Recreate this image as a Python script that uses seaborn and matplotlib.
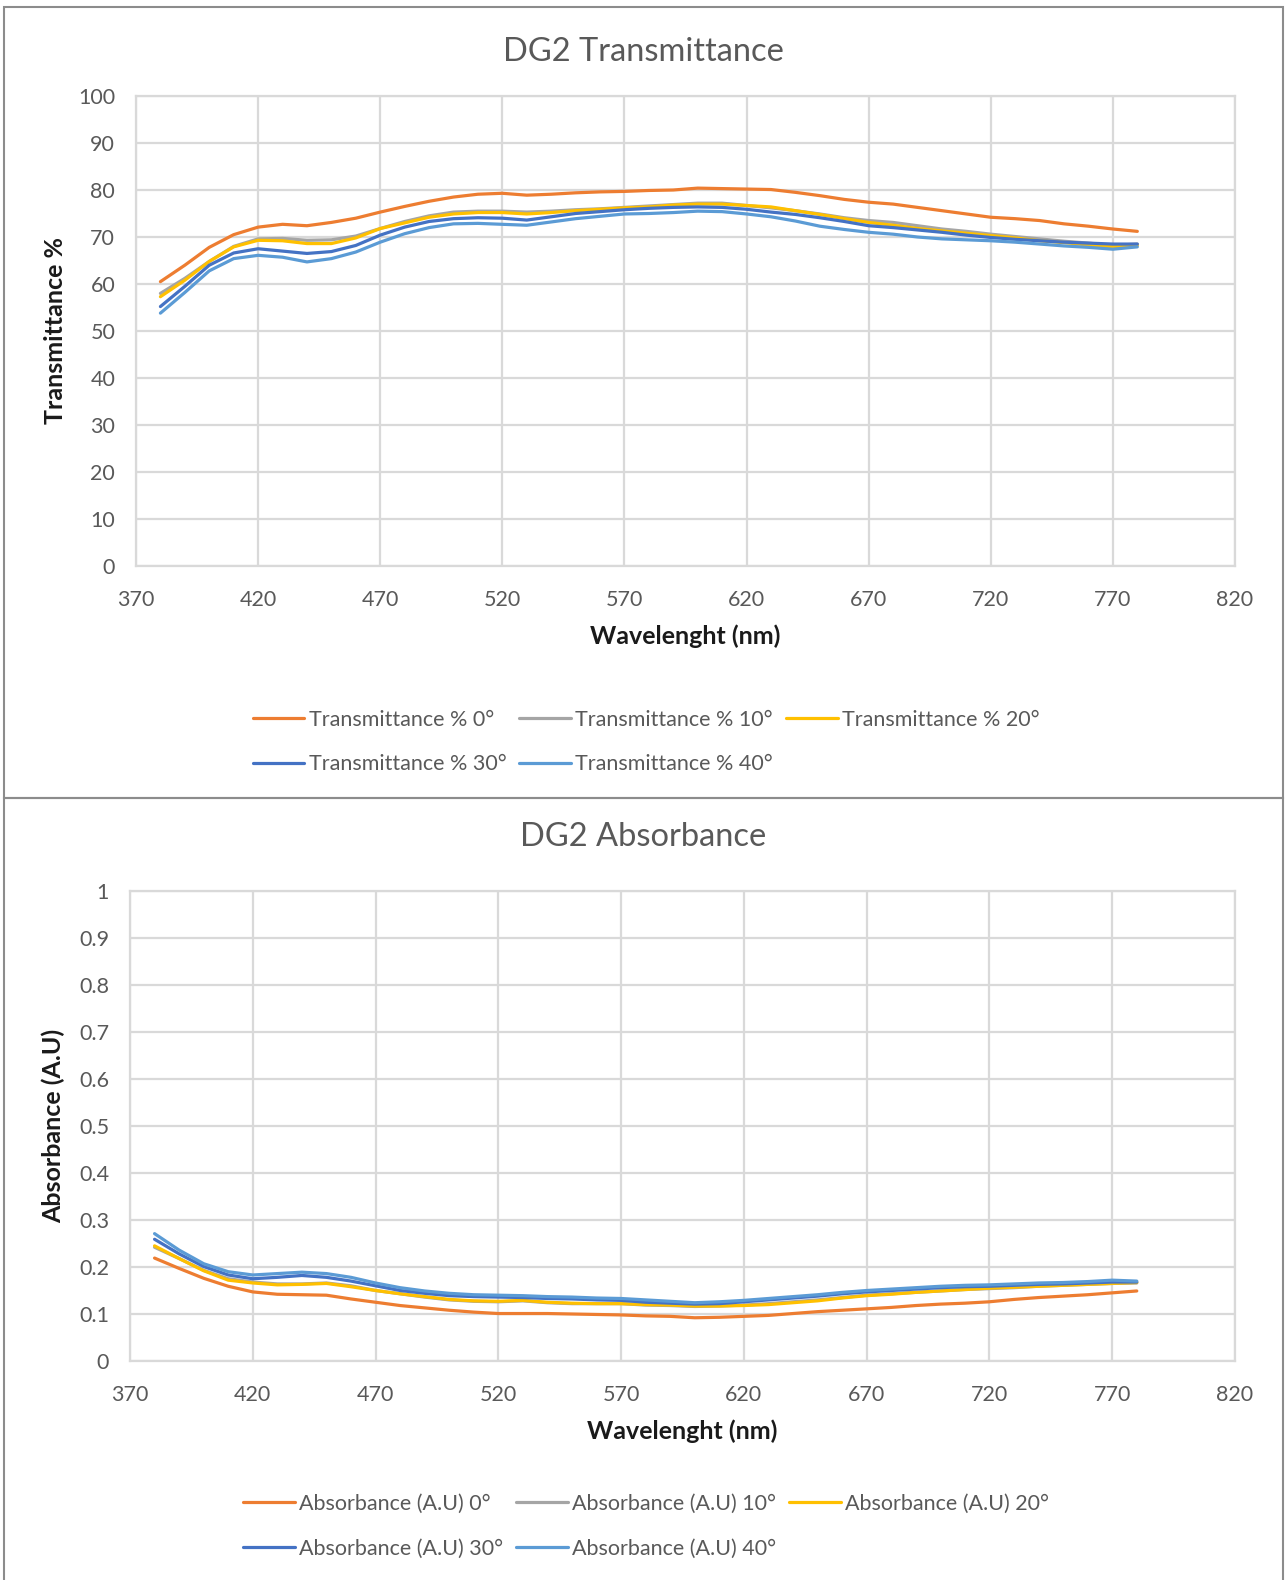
import numpy as np
import pandas as pd
import seaborn as sns
from matplotlib import pyplot as plt
from matplotlib.patches import Rectangle
from matplotlib.ticker import FuncFormatter, MultipleLocator

# wavelength grid, 380..780 nm every 10 nm
wavelength = list(range(380, 781, 10))

angles = ["0°", "10°", "20°", "30°", "40°"]

trans_0 = [60.5, 64.0, 67.8, 70.5, 72.1, 72.7, 72.4, 73.1, 74.0, 75.3, 76.5, 77.6, 78.5, 79.1,
           79.3, 78.9, 79.1, 79.4, 79.6, 79.7, 79.9, 80.0, 80.4, 80.3, 80.2, 80.1, 79.5, 78.8,
           78.0, 77.4, 77.0, 76.3, 75.6, 74.9, 74.2, 73.9, 73.5, 72.8, 72.3, 71.7, 71.2]
trans_10 = [58.0, 61.2, 64.8, 68.0, 69.6, 69.7, 69.3, 69.4, 70.2, 71.8, 73.3, 74.5, 75.3, 75.5,
            75.5, 75.3, 75.5, 75.8, 76.0, 76.3, 76.6, 76.9, 77.2, 77.2, 76.7, 76.2, 75.6, 74.9,
            74.1, 73.5, 73.1, 72.4, 71.7, 71.2, 70.6, 70.1, 69.6, 69.1, 68.7, 68.2, 68.5]
trans_20 = [57.3, 60.8, 64.8, 67.9, 69.3, 69.2, 68.6, 68.6, 69.8, 71.8, 73.0, 74.2, 74.9, 75.2,
            75.2, 74.9, 75.2, 75.6, 75.9, 76.2, 76.4, 76.8, 77.0, 77.0, 76.7, 76.4, 75.6, 74.8,
            73.9, 73.1, 72.5, 71.8, 71.3, 70.8, 70.3, 69.8, 69.2, 68.8, 68.3, 67.9, 68.2]
trans_30 = [55.2, 59.5, 64.0, 66.6, 67.5, 67.0, 66.5, 66.9, 68.2, 70.4, 72.1, 73.3, 73.9, 74.1,
            74.0, 73.6, 74.3, 75.0, 75.4, 75.8, 76.1, 76.3, 76.4, 76.3, 75.9, 75.3, 74.8, 74.1,
            73.3, 72.4, 72.0, 71.5, 71.0, 70.4, 69.9, 69.5, 69.2, 68.9, 68.7, 68.5, 68.5]
trans_40 = [53.8, 58.2, 62.8, 65.4, 66.1, 65.7, 64.7, 65.4, 66.8, 68.9, 70.7, 72.0, 72.8, 72.9,
            72.7, 72.5, 73.2, 73.9, 74.4, 74.9, 75.0, 75.2, 75.5, 75.4, 74.9, 74.3, 73.4, 72.3,
            71.6, 71.0, 70.6, 70.0, 69.6, 69.4, 69.2, 68.9, 68.5, 68.1, 67.8, 67.4, 67.9]

abs_0 = [0.219, 0.197, 0.176, 0.159, 0.147, 0.142, 0.141, 0.140, 0.132, 0.125, 0.118, 0.113,
         0.108, 0.104, 0.101, 0.101, 0.101, 0.100, 0.099, 0.098, 0.096, 0.095, 0.092, 0.093,
         0.095, 0.097, 0.101, 0.105, 0.108, 0.111, 0.114, 0.118, 0.121, 0.123, 0.126, 0.131,
         0.135, 0.138, 0.141, 0.145, 0.149]
abs_10 = [0.242, 0.218, 0.193, 0.175, 0.168, 0.164, 0.164, 0.166, 0.160, 0.150, 0.143, 0.136,
          0.130, 0.127, 0.126, 0.128, 0.124, 0.122, 0.122, 0.122, 0.119, 0.118, 0.116, 0.117,
          0.119, 0.122, 0.126, 0.130, 0.135, 0.140, 0.143, 0.146, 0.149, 0.152, 0.154, 0.156,
          0.159, 0.161, 0.163, 0.165, 0.166]
abs_20 = [0.245, 0.218, 0.192, 0.172, 0.166, 0.162, 0.163, 0.165, 0.158, 0.150, 0.143, 0.137,
          0.131, 0.128, 0.127, 0.129, 0.125, 0.123, 0.122, 0.122, 0.120, 0.119, 0.117, 0.117,
          0.118, 0.120, 0.124, 0.128, 0.134, 0.139, 0.142, 0.146, 0.149, 0.152, 0.155, 0.157,
          0.159, 0.161, 0.163, 0.165, 0.167]
abs_30 = [0.259, 0.228, 0.201, 0.183, 0.175, 0.178, 0.182, 0.178, 0.170, 0.160, 0.150, 0.144,
          0.139, 0.137, 0.136, 0.135, 0.133, 0.132, 0.130, 0.129, 0.125, 0.123, 0.121, 0.122,
          0.126, 0.130, 0.134, 0.138, 0.143, 0.147, 0.150, 0.153, 0.156, 0.158, 0.159, 0.161,
          0.163, 0.164, 0.166, 0.168, 0.168]
abs_40 = [0.271, 0.236, 0.207, 0.190, 0.183, 0.186, 0.189, 0.186, 0.178, 0.166, 0.156, 0.149,
          0.144, 0.141, 0.140, 0.139, 0.137, 0.136, 0.134, 0.133, 0.130, 0.127, 0.124, 0.126,
          0.129, 0.133, 0.137, 0.141, 0.146, 0.150, 0.153, 0.156, 0.159, 0.161, 0.162, 0.164,
          0.166, 0.167, 0.169, 0.172, 0.170]

x_ticks = [370, 420, 470, 520, 570, 620, 670, 720, 770, 820]

colors = ["#ED7D31", "#A5A5A5", "#FFC000", "#4472C4", "#5B9BD5"]

TEXT_GREY = "#595959"
GRID_GREY = "#D9D9D9"


def _long_frame(series, prefix):
    rows = []
    for angle, values in zip(angles, series):
        for wl, v in zip(wavelength, values):
            rows.append({"wavelength": wl, "value": v, "series": f"{prefix} {angle}"})
    return pd.DataFrame(rows)


def _style_axis(ax, ymax, ystep, ylabel, label_x):
    ax.set_xlim(x_ticks[0], x_ticks[-1])
    ax.set_ylim(0, ymax)
    ax.set_xticks(x_ticks)
    ax.yaxis.set_major_locator(MultipleLocator(ystep))
    ax.yaxis.set_major_formatter(FuncFormatter(lambda v, _: f"{round(v, 2):g}"))
    ax.grid(True, color=GRID_GREY, linewidth=1.6)
    ax.set_axisbelow(True)
    for spine in ax.spines.values():
        spine.set_color(GRID_GREY)
        spine.set_linewidth(1.6)
    ax.tick_params(axis="both", length=0, labelsize=15.5, labelcolor=TEXT_GREY)
    ax.tick_params(axis="x", pad=17)
    ax.tick_params(axis="y", pad=15)
    ax.set_xlabel("Wavelenght (nm)", fontsize=18, fontweight="bold", color="#1a1a1a",
                  va="center")
    ax.set_ylabel(ylabel, fontsize=18, fontweight="bold", color="#1a1a1a", va="center")
    ax.xaxis.set_label_coords(0.5, -0.150)
    ax.yaxis.set_label_coords(label_x, 0.5)


def _panel(fig, ax, series, prefix, title, title_y, ymax, ystep, ylabel, label_x, legend_y):
    df = _long_frame(series, prefix)
    names = [f"{prefix} {a}" for a in angles]
    sns.lineplot(
        data=df, x="wavelength", y="value", hue="series", hue_order=names,
        palette=dict(zip(names, colors)), linewidth=2.3, ax=ax, legend=True,
    )
    handles, labels = ax.get_legend_handles_labels()
    ax.get_legend().remove()
    _style_axis(ax, ymax, ystep, ylabel, label_x)

    fig.text(0.5, title_y, title, ha="center", va="center", fontsize=23.5, color=TEXT_GREY)

    # excel fills legend rows first, matplotlib fills columns first
    order = [0, 3, 1, 4, 2]
    leg = fig.legend(
        [handles[i] for i in order], [labels[i] for i in order],
        loc="center", bbox_to_anchor=(0.502, legend_y), ncol=3, frameon=False,
        fontsize=15.5, handlelength=2.4, handletextpad=0.2, columnspacing=0.6,
        labelspacing=1.15, borderpad=0,
    )
    for text in leg.get_texts():
        text.set_color(TEXT_GREY)
    for line in leg.get_lines():
        line.set_linewidth(2.3)


def main():
    sns.set_theme(style="white")
    plt.rcParams["font.family"] = ["Lato", "DejaVu Sans"]

    fig = plt.figure(figsize=(12.87, 15.8), dpi=100)
    ax_top = fig.add_axes([136 / 1287, 1 - 566 / 1580, 1099 / 1287, 470 / 1580])
    ax_bot = fig.add_axes([130 / 1287, 1 - 1361 / 1580, 1105 / 1287, 470 / 1580])

    # chart borders
    border = "#8C8C8C"
    fig.patches.append(Rectangle((3.5 / 1287, 1 - 798 / 1580), 1279 / 1287, 791.5 / 1580,
                                 transform=fig.transFigure, fill=False, edgecolor=border,
                                 linewidth=1.5))
    fig.patches.append(Rectangle((3.5 / 1287, -0.01), 1279 / 1287, 0.01 + 1 - 798 / 1580,
                                 transform=fig.transFigure, fill=False, edgecolor=border,
                                 linewidth=1.5))

    _panel(fig, ax_top, [trans_0, trans_10, trans_20, trans_30, trans_40],
           "Transmittance %", "DG2 Transmittance", 1 - 52 / 1580, 100, 10,
           "Transmittance %", -0.0737, 1 - 742 / 1580)
    _panel(fig, ax_bot, [abs_0, abs_10, abs_20, abs_30, abs_40],
           "Absorbance (A.U)", "DG2 Absorbance", 1 - 836.5 / 1580, 1, 0.1,
           "Absorbance (A.U)", -0.0696, 1 - 1526 / 1580)

    fig.savefig("out.png", dpi=100, facecolor="white")


if __name__ == "__main__":
    main()
